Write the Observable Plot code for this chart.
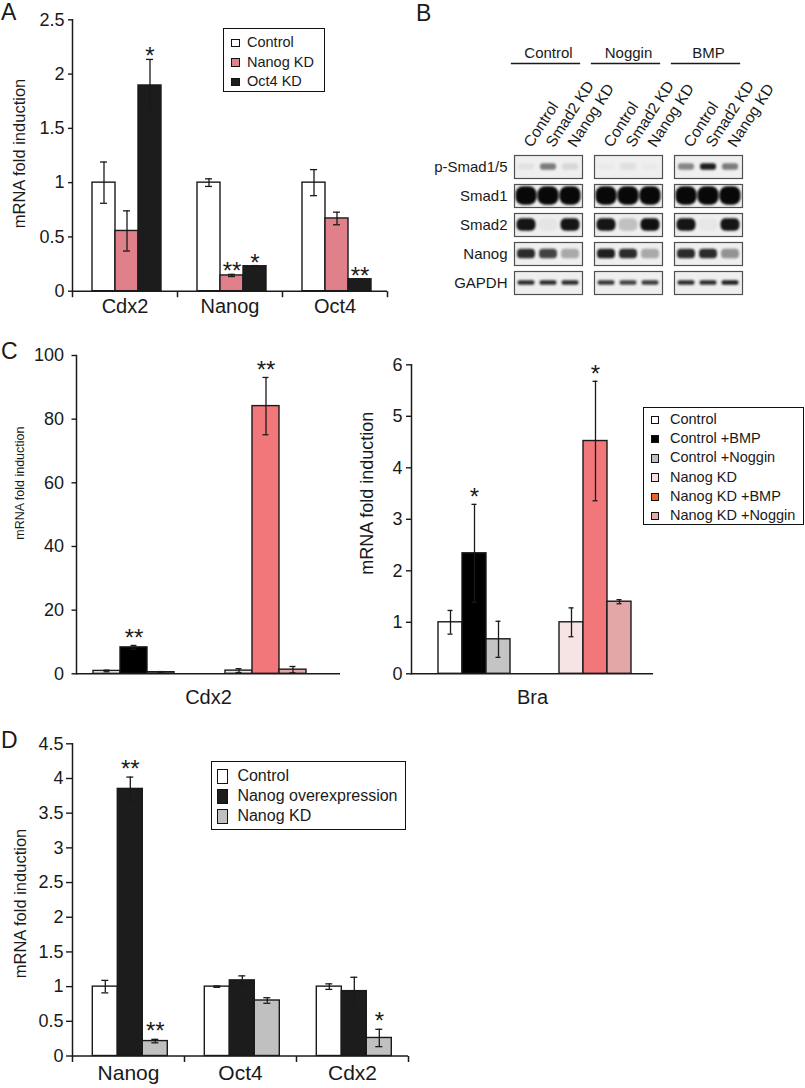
<!DOCTYPE html>
<html><head><meta charset="utf-8">
<script src="https://cdn.jsdelivr.net/npm/d3@7"></script>
<script src="https://cdn.jsdelivr.net/npm/@observablehq/plot@0.6"></script>
<style>
body{margin:0;background:#fff;}
#fig{position:relative;width:805px;height:1088px;overflow:hidden;font-family:"Liberation Sans",Arial,Helvetica,sans-serif;color:#1a1a1a;background:#fff;}
.letter{position:absolute;font-size:23px;line-height:1;}
.legend{position:absolute;border:1.5px solid #111;box-sizing:border-box;background:#fff;}
.entry{position:absolute;white-space:nowrap;line-height:1;}
.sw{position:absolute;border:1.2px solid #111;box-sizing:border-box;}
</style></head><body><div id="fig"></div>
<script>
// ================= DATA =================
// Panel A
const aGenes = ["Cdx2", "Nanog", "Oct4"];
const aSeries = ["Control", "Nanog KD", "Oct4 KD"];
const aColors = ["#ffffff", "#e0808a", "#1c1c1c"];
const aValues = [[1.0, 0.555, 1.895], [1.0, 0.145, 0.23], [1.0, 0.67, 0.11]];
const aErrors = [[0.19, 0.185, 0.24], [0.035, 0.01, 0.006], [0.12, 0.058, 0.005]];
const aStars = [["", "", "*"], ["", "**", "*"], ["", "", "**"]];
const aTicks = [0, 0.5, 1, 1.5, 2, 2.5];

// Panel B (western blot band intensities, 0 = none, 1 = saturated)
const blotGroups = ["Control", "Noggin", "BMP"];
const blotLanes = ["Control", "Smad2 KD", "Nanog KD"];
const blotRows = ["p-Smad1/5", "Smad1", "Smad2", "Nanog", "GAPDH"];
const pSmadBands = [0.05, 0.5, 0.1, 0.02, 0.07, 0.02, 0.45, 0.9, 0.5];
const smad1Bands = [1, 1, 1, 1, 1, 1, 1, 1, 1];
const smad2Bands = [0.95, 0.04, 0.95, 0.95, 0.2, 0.97, 0.95, 0.03, 0.95];
const nanogBands = [0.85, 0.75, 0.3, 0.9, 0.85, 0.3, 0.85, 0.85, 0.4];
const gapdhBands = [0.85, 0.85, 0.85, 0.8, 0.75, 0.78, 0.85, 0.85, 0.9];

// Panel C
const cBackgrounds = ["Control", "Nanog KD"];
const cTreatments = ["", "+BMP", "+Noggin"];
const cSeries = ["Control", "Control +BMP", "Control +Noggin", "Nanog KD", "Nanog KD +BMP", "Nanog KD +Noggin"];
const cBarColors = ["#ffffff", "#000000", "#c4c4c4", "#f6e3e3", "#f2777b", "#e3a7a8"];
const cLegendColors = ["#ffffff", "#000000", "#bdbdbd", "#f4e0e0", "#ee6322", "#e4aaaa"];
const cCdx2Values = [0.9, 8.3, 0.5, 1.0, 84.1, 1.3];
const cCdx2Errors = [0.25, 0.6, 0.2, 0.6, 9.0, 1.0];
const cCdx2Stars = ["", "**", "", "", "**", ""];
const cBraValues = [1.0, 2.34, 0.67, 1.0, 4.52, 1.4];
const cBraErrors = [0.23, 0.95, 0.35, 0.28, 1.16, 0.04];
const cBraStars = ["", "*", "", "", "*", ""];
const cCdx2Ticks = [0, 20, 40, 60, 80, 100];
const cBraTicks = [0, 1, 2, 3, 4, 5, 6];

// Panel D
const dGenes = ["Nanog", "Oct4", "Cdx2"];
const dSeries = ["Control", "Nanog overexpression", "Nanog KD"];
const dColors = ["#ffffff", "#1c1c1c", "#c0c0c0"];
const dValues = [[1.0, 3.85, 0.215], [1.0, 1.09, 0.80], [1.0, 0.935, 0.26]];
const dErrors = [[0.09, 0.17, 0.025], [0.01, 0.065, 0.04], [0.04, 0.2, 0.125]];
const dStars = [["", "**", "**"], ["", "", ""], ["", "", "*"]];
const dTicks = [0, 0.5, 1, 1.5, 2, 2.5, 3, 3.5, 4, 4.5];

const yLabel = "mRNA fold induction";

// ================= HELPERS =================
const FONT = "'Liberation Sans', Arial, Helvetica, sans-serif";
const INK = "#1a1a1a";
const fig = document.getElementById("fig");
function place(node, left, top) {
  node.style.position = "absolute";
  node.style.left = left + "px";
  node.style.top = top + "px";
  fig.appendChild(node);
}
const baseStyle = {fontFamily: FONT, fontSize: "16px", color: INK, background: "none", overflow: "visible"};
const tickDown = {draw(ctx) { ctx.moveTo(0, 0); ctx.lineTo(0, 6); }};

function buildRows(groups, series, values, errors, stars) {
  const rows = [];
  groups.forEach((g, gi) => series.forEach((s, si) => {
    const v = values[gi][si], e = errors[gi][si];
    rows.push({group: g, key: s, series: s, value: v, lo: v - e, hi: v + e, star: stars[gi][si]});
  }));
  return rows;
}
function buildCRows(values, errors, stars) {
  const rows = [];
  cBackgrounds.forEach((b, bi) => cTreatments.forEach((t, ti) => {
    const i = bi * cTreatments.length + ti;
    rows.push({group: b, key: t || "none", series: cSeries[i], value: values[i], lo: values[i] - errors[i], hi: values[i] + errors[i], star: stars[i]});
  }));
  return rows;
}

function barPanel(c) {
  const rows = c.rows;
  const marks = [
    Plot.barY(rows, {fx: "group", x: "key", y: "value", fill: "series", stroke: INK, strokeWidth: 1.4}),
    Plot.ruleX(rows, {fx: "group", x: "key", y1: "lo", y2: "hi", stroke: INK, strokeWidth: 1.3}),
    Plot.tickY(rows, {fx: "group", x: "key", y: "lo", stroke: INK, strokeWidth: 1.3, insetLeft: c.capInset, insetRight: c.capInset}),
    Plot.tickY(rows, {fx: "group", x: "key", y: "hi", stroke: INK, strokeWidth: 1.3, insetLeft: c.capInset, insetRight: c.capInset}),
    Plot.text(rows.filter(d => d.star), {fx: "group", x: "key", y: "hi", text: "star", fontSize: c.starFont, lineAnchor: "bottom", dy: c.starDy, fill: INK}),
    Plot.ruleY([0], {stroke: INK, strokeWidth: 1.5}),
    Plot.frame({anchor: "left", facetAnchor: "left", stroke: INK, strokeWidth: 1.5}),
    Plot.axisY({ticks: c.yTicks, tickFormat: d => String(d), tickSize: c.tickSize, tickPadding: c.tickPadding, fontSize: c.tickFont, label: null, strokeWidth: 1.4}),
    Plot.text([yLabel], {frameAnchor: "left", textAnchor: "middle", lineAnchor: "middle", rotate: -90, dx: c.ylDx, dy: c.ylDy, fontSize: c.ylFont, facetAnchor: "left", fill: INK})
  ];
  if (c.boundaryTicks) {
    marks.push(
      Plot.dot(c.groups, {fx: d => d, frameAnchor: "bottom-right", symbol: tickDown, stroke: INK, strokeWidth: 1.5, fill: "none"}),
      Plot.dot(c.groups.slice(0, 1), {fx: d => d, frameAnchor: "bottom-left", symbol: tickDown, stroke: INK, strokeWidth: 1.5, fill: "none"}),
      Plot.axisFx({anchor: "bottom", tickSize: 0, tickPadding: c.catPadding, fontSize: c.catFont, label: null})
    );
  } else {
    marks.push(Plot.text([c.catLabel], {fx: () => c.groups[0], frameAnchor: "bottom-right", textAnchor: "middle", lineAnchor: "top", dy: c.catPadding, fontSize: c.catFont, fill: INK}));
  }
  return Plot.plot({
    width: c.W, height: c.H,
    marginLeft: c.mL, marginRight: c.mR, marginTop: c.mT, marginBottom: c.mB,
    style: baseStyle,
    fx: c.boundaryTicks ? {domain: c.groups, padding: 0} : {domain: c.groups, padding: 0, axis: null},
    x: {domain: c.xDomain, paddingInner: 0, paddingOuter: c.pad, align: c.align, axis: null},
    y: {domain: c.yDomain},
    color: {domain: c.colorDomain, range: c.colorRange},
    marks
  });
}

function legend(c) {
  const box = document.createElement("div");
  box.className = "legend";
  box.style.width = c.w + "px";
  box.style.height = c.h + "px";
  c.labels.forEach((lab, i) => {
    const sw = document.createElement("div");
    sw.className = "sw";
    sw.style.left = c.swX + "px";
    sw.style.top = (c.y0 + i * c.step - c.swH / 2) + "px";
    sw.style.width = c.swW + "px";
    sw.style.height = c.swH + "px";
    sw.style.background = c.colors[i];
    box.appendChild(sw);
    const t = document.createElement("div");
    t.className = "entry";
    t.style.left = c.textX + "px";
    t.style.top = (c.y0 + i * c.step - c.font * 0.55) + "px";
    t.style.fontSize = c.font + "px";
    t.textContent = lab;
    box.appendChild(t);
  });
  place(box, c.left, c.top);
}
function letter(ch, left, top) {
  const d = document.createElement("div");
  d.className = "letter";
  d.textContent = ch;
  place(d, left, top);
}

// ================= PANEL A =================
const aRows = buildRows(aGenes, aSeries, aValues, aErrors, aStars);
place(barPanel({
  rows: aRows, groups: aGenes, xDomain: aSeries, colorDomain: aSeries, colorRange: aColors,
  yDomain: [0, 2.5], yTicks: aTicks,
  W: 400, H: 320, mL: 71, mR: 13, mT: 19.3, mB: 29.3,
  pad: 0.75, align: 0.55, capInset: 8,
  tickSize: 4, tickPadding: 4, tickFont: 18,
  starFont: 24, starDy: 5,
  boundaryTicks: true, catFont: 20, catPadding: 8,
  ylFont: 16.5, ylDx: -53, ylDy: -2
}), 0, 0);
legend({left: 223, top: 28, w: 102, h: 64, labels: aSeries, colors: aColors,
  y0: 14, step: 19.5, swX: 7, swW: 8.5, swH: 8.5, textX: 23, font: 14.5});
letter("A", 1, 1);

// ================= PANEL B =================
const blotData = [pSmadBands, smad1Bands, smad2Bands, nanogBands, gapdhBands];
const bands = [];
blotRows.forEach((r, ri) => blotGroups.forEach((g, gi) => blotLanes.forEach((l, li) => {
  bands.push({row: r, group: g, lane: l, v: blotData[ri][gi * 3 + li]});
})));
const laneRows = [];
blotGroups.forEach(g => blotLanes.forEach(l => laneRows.push({group: g, lane: l})));
const bandStyle = {"p-Smad1/5": [7, 3], "Smad1": [19, 0.5], "Smad2": [13, 1.5], "Nanog": [10, 2], "GAPDH": [5, 2.5]};
const facetH = 23.5;
const bandMarks = blotRows.map(r => {
  const [h, side] = bandStyle[r];
  const ins = (facetH - h) / 2;
  return Plot.cell(bands.filter(d => d.row === r), {
    fx: "group", fy: "row", x: "lane", fill: "#080808", fillOpacity: "v",
    insetTop: ins, insetBottom: ins, insetLeft: side, insetRight: side, rx: h / 2.6
  });
});
const blot = Plot.plot({
  width: 405, height: 310, marginLeft: 114, marginRight: 63, marginTop: 154, marginBottom: 15,
  style: baseStyle,
  fx: {domain: blotGroups, paddingInner: 0.15, paddingOuter: 0},
  fy: {domain: blotRows, paddingInner: 0.2, paddingOuter: 0},
  x: {domain: blotLanes, padding: 0, axis: null},
  opacity: {domain: [0, 1], range: [0, 1]},
  marks: [
    Plot.frame({fill: "#efefef", stroke: null}),
    ...bandMarks,
    Plot.frame({stroke: "#505050", strokeWidth: 1.2}),
    Plot.axisFy({anchor: "left", tickSize: 0, tickPadding: 7, fontSize: 15, label: null}),
    Plot.axisFx({anchor: "top", tickSize: 0, tickPadding: 98, fontSize: 15, label: null}),
    Plot.frame({anchor: "top", facetAnchor: "top", dy: -92, dx: -3, stroke: INK, strokeWidth: 1.3}),
    Plot.text(laneRows, {fx: "group", fy: () => blotRows[0], x: "lane", text: "lane", frameAnchor: "top",
      rotate: -57, textAnchor: "start", lineAnchor: "middle", dy: -10, dx: 1, fontSize: 15.5, fill: INK})
  ]
});
d3.select(blot).selectAll('g[aria-label="cell"]').style("filter", "blur(1.2px)");
place(blot, 400, 0);
letter("B", 416, 2);

// ================= PANEL C =================
place(barPanel({
  rows: buildCRows(cCdx2Values, cCdx2Errors, cCdx2Stars), groups: cBackgrounds,
  xDomain: cTreatments.map(t => t || "none"), colorDomain: cSeries, colorRange: cBarColors,
  yDomain: [0, 100], yTicks: cCdx2Ticks,
  W: 345, H: 390, mL: 76, mR: 5, mT: 35, mB: 36.7,
  pad: 0.944, align: 0.34, capInset: 10.5,
  tickSize: 4.5, tickPadding: 8, tickFont: 18,
  starFont: 24, starDy: 1,
  boundaryTicks: false, catLabel: "Cdx2", catFont: 20, catPadding: 16,
  ylFont: 12.5, ylDx: -57, ylDy: -31.5
}), 0, 320);
place(barPanel({
  rows: buildCRows(cBraValues, cBraErrors, cBraStars), groups: cBackgrounds,
  xDomain: cTreatments.map(t => t || "none"), colorDomain: cSeries, colorRange: cBarColors,
  yDomain: [0, 6], yTicks: cBraTicks,
  W: 460, H: 390, mL: 65, mR: 152, mT: 44.3, mB: 36.7,
  pad: 0.94, align: 0.547, capInset: 9.5,
  tickSize: 5, tickPadding: 4, tickFont: 18,
  starFont: 24, starDy: 1,
  boundaryTicks: false, catLabel: "Bra", catFont: 20, catPadding: 16,
  ylFont: 18, ylDx: -44, ylDy: -26
}), 345, 320);
legend({left: 643, top: 406.7, w: 161, h: 118.3, labels: cSeries, colors: cLegendColors,
  y0: 12.3, step: 19.2, swX: 6.5, swW: 8.5, swH: 8.5, textX: 26, font: 14.5});
letter("C", 1, 340);

// ================= PANEL D =================
place(barPanel({
  rows: buildRows(dGenes, dSeries, dValues, dErrors, dStars), groups: dGenes,
  xDomain: dSeries, colorDomain: dSeries, colorRange: dColors,
  yDomain: [0, 4.5], yTicks: dTicks,
  W: 430, H: 388, mL: 71.7, mR: 21, mT: 43.3, mB: 32.5,
  pad: 0.69, align: 0.546, capInset: 9,
  tickSize: 6, tickPadding: 3, tickFont: 18,
  starFont: 24, starDy: 0,
  boundaryTicks: true, catFont: 21, catPadding: 9,
  ylFont: 16.5, ylDx: -52, ylDy: 3.6
}), 0, 700);
legend({left: 211.4, top: 760.7, w: 194.6, h: 69.3, labels: dSeries, colors: dColors,
  y0: 15.3, step: 20, swX: 5, swW: 10.5, swH: 15, textX: 25, font: 16});
letter("D", 1, 729);
</script></body></html>
